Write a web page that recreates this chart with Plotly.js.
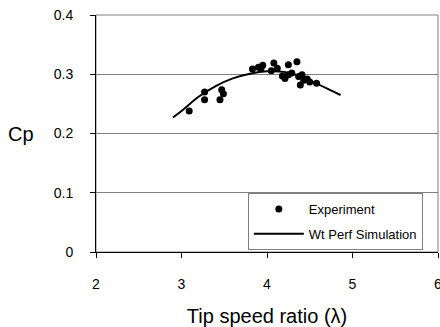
<!DOCTYPE html>
<html>
<head>
<meta charset="utf-8">
<script src="https://cdn.plot.ly/plotly-3.0.1.min.js"></script>
<style>html,body{margin:0;padding:0;background:#fff;}#chart{width:440px;height:327px;}</style>
</head>
<body>
<div id="chart"></div>
<script>
// Experiment data (tip speed ratio, Cp)
const expLambda = [3.09, 3.27, 3.27, 3.47, 3.49, 3.45,
  3.83, 3.90, 3.95, 3.93, 4.08, 4.12, 4.05,
  4.18, 4.21, 4.25, 4.25, 4.35, 4.29,
  4.37, 4.41, 4.43, 4.39, 4.47, 4.50, 4.58];
const expCp = [0.238, 0.270, 0.257, 0.274, 0.267, 0.257,
  0.309, 0.312, 0.315, 0.310, 0.319, 0.310, 0.306,
  0.297, 0.293, 0.299, 0.316, 0.321, 0.302,
  0.296, 0.299, 0.290, 0.282, 0.292, 0.287, 0.285];
// Wt Perf simulation curve
const simLambda = [2.9, 3.0, 3.2, 3.4, 3.6, 3.8, 4.0, 4.2, 4.4, 4.6, 4.86];
const simCp = [0.227, 0.238, 0.262, 0.280, 0.293, 0.301, 0.305, 0.304, 0.296, 0.283, 0.265];
const xTicks = [2, 3, 4, 5, 6];
const yTicks = [0, 0.1, 0.2, 0.3, 0.4];
const yTickText = ['0', '0.1', '0.2', '0.3', '0.4'];

const traces = [
  {x: expLambda, y: expCp, type: 'scatter', mode: 'markers', name: 'Experiment',
   legendgroup: 'a', marker: {color: '#000', size: 7}},
  {x: simLambda, y: simCp, type: 'scatter', mode: 'lines', name: 'Wt Perf Simulation',
   legendgroup: 'b', line: {color: '#000', width: 2, shape: 'spline'}}
];
const font = {family: 'Liberation Sans, Arial, sans-serif', color: '#000'};
const layout = {
  width: 440, height: 327,
  margin: {l: 96, r: 2, t: 15, b: 75},
  paper_bgcolor: '#fff', plot_bgcolor: '#fff',
  font: font,
  showlegend: true,
  legend: {x: 0.444, y: 0.249, xanchor: 'left', yanchor: 'top',
    bgcolor: '#fff', bordercolor: '#808080', borderwidth: 1,
    font: {family: font.family, size: 13, color: '#000'},
    itemwidth: 50, tracegroupgap: 5},
  xaxis: {range: [2, 6], tickvals: xTicks, ticktext: xTicks.map(String),
    showgrid: false, zeroline: false, showline: true, linecolor: '#000', linewidth: 1,
    ticks: 'outside', ticklen: 5, tickcolor: '#000', ticklabelstandoff: 14,
    ticklabeloverflow: 'allow',
    tickfont: {family: font.family, size: 14, color: '#000'},
    title: {text: 'Tip speed ratio (λ)', font: {family: font.family, size: 20, color: '#000'}, standoff: 18}},
  yaxis: {range: [0, 0.4], tickvals: yTicks, ticktext: yTickText,
    showgrid: true, gridcolor: '#808080', gridwidth: 1, zeroline: false,
    showline: true, linecolor: '#000', linewidth: 1,
    ticks: 'outside', ticklen: 5, tickcolor: '#000', ticklabelstandoff: 14,
    tickfont: {family: font.family, size: 14, color: '#000'}},
  annotations: [{text: 'Cp', xref: 'paper', yref: 'paper', x: -0.218, y: 0.5,
    xanchor: 'center', yanchor: 'middle', showarrow: false,
    font: {family: font.family, size: 20, color: '#000'}}],
  shapes: [{type: 'rect', xref: 'paper', yref: 'paper', x0: 0, x1: 1, y0: 0, y1: 1,
    line: {color: '#808080', width: 1}, layer: 'below'}]
};
Plotly.newPlot('chart', traces, layout, {displayModeBar: false, staticPlot: true});
</script>
</body>
</html>
